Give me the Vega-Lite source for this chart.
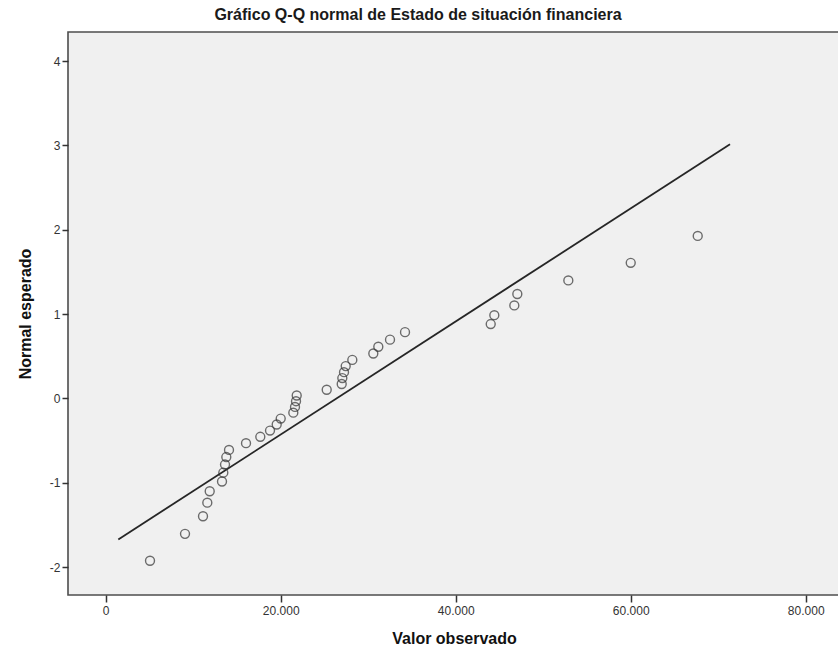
{
  "$schema": "https://vega.github.io/schema/vega-lite/v6.json",
  "autosize": "none",
  "width": 772,
  "height": 563,
  "padding": {"left": 68, "top": 32, "right": 0, "bottom": 66},
  "background": "white",
  "title": {
    "text": "Gráfico Q-Q normal de Estado de situación financiera",
    "font": "Liberation Sans",
    "fontSize": 16,
    "fontWeight": "bold",
    "color": "#1a1a1a",
    "anchor": "middle",
    "dx": -36,
    "offset": 9
  },
  "datasets": {
    "pts": [
      {"valor": 5063, "normal": -1.926},
      {"valor": 9063, "normal": -1.607},
      {"valor": 11120, "normal": -1.398},
      {"valor": 11612, "normal": -1.237},
      {"valor": 11886, "normal": -1.102},
      {"valor": 13292, "normal": -0.986},
      {"valor": 13440, "normal": -0.881},
      {"valor": 13635, "normal": -0.785},
      {"valor": 13783, "normal": -0.696},
      {"valor": 14092, "normal": -0.612},
      {"valor": 16035, "normal": -0.532},
      {"valor": 17669, "normal": -0.456},
      {"valor": 18778, "normal": -0.382},
      {"valor": 19543, "normal": -0.310},
      {"valor": 20000, "normal": -0.240},
      {"valor": 21441, "normal": -0.170},
      {"valor": 21635, "normal": -0.102},
      {"valor": 21749, "normal": -0.034},
      {"valor": 21829, "normal": 0.034},
      {"valor": 25258, "normal": 0.102},
      {"valor": 26972, "normal": 0.170},
      {"valor": 27041, "normal": 0.240},
      {"valor": 27235, "normal": 0.310},
      {"valor": 27429, "normal": 0.382},
      {"valor": 28184, "normal": 0.456},
      {"valor": 30584, "normal": 0.532},
      {"valor": 31155, "normal": 0.612},
      {"valor": 32492, "normal": 0.696},
      {"valor": 34207, "normal": 0.785},
      {"valor": 44002, "normal": 0.881},
      {"valor": 44413, "normal": 0.986},
      {"valor": 46699, "normal": 1.102},
      {"valor": 47042, "normal": 1.237},
      {"valor": 52871, "normal": 1.398},
      {"valor": 60003, "normal": 1.607},
      {"valor": 67660, "normal": 1.926}
    ],
    "linea": [
      {"valor": 1440, "normal": -1.673},
      {"valor": 71350, "normal": 3.013}
    ]
  },
  "layer": [
    {
      "data": {"name": "linea"},
      "mark": {"type": "line", "color": "#262626", "strokeWidth": 1.8},
      "encoding": {
        "x": {"field": "valor", "type": "quantitative"},
        "y": {"field": "normal", "type": "quantitative"}
      }
    },
    {
      "data": {"name": "pts"},
      "mark": {"type": "point", "shape": "circle", "filled": false, "color": "#333333", "size": 80, "strokeWidth": 1.4},
      "encoding": {
        "x": {
          "field": "valor", "type": "quantitative",
          "scale": {"domain": [-4309, 83920], "nice": false, "zero": false},
          "axis": {
            "title": "Valor observado",
            "values": [0, 20000, 40000, 60000, 80000],
            "labelExpr": "replace(format(datum.value, ',.0f'), ',', '.')",
            "grid": false,
            "domain": false,
            "tickSize": 7,
            "tickColor": "#333333",
            "tickWidth": 1.5,
            "labelPadding": 3,
            "labelFont": "Liberation Sans",
            "labelFontSize": 12,
            "labelColor": "#333333",
            "titleFont": "Liberation Sans",
            "titleFontSize": 16,
            "titleFontWeight": "bold",
            "titleColor": "#111111",
            "titlePadding": 14
          }
        },
        "y": {
          "field": "normal", "type": "quantitative",
          "scale": {"domain": [-2.332, 4.344], "nice": false, "zero": false},
          "axis": {
            "title": "Normal esperado",
            "values": [-2, -1, 0, 1, 2, 3, 4],
            "labelExpr": "datum.value < 0 ? '-' + abs(datum.value) : '' + datum.value",
            "grid": false,
            "domain": false,
            "tickSize": 6,
            "tickColor": "#333333",
            "tickWidth": 1.5,
            "labelPadding": 2,
            "labelFont": "Liberation Sans",
            "labelFontSize": 12,
            "labelColor": "#333333",
            "titleFont": "Liberation Sans",
            "titleFontSize": 16,
            "titleFontWeight": "bold",
            "titleColor": "#111111",
            "titlePadding": 16
          }
        }
      }
    }
  ],
  "config": {
    "view": {"fill": "#f0f0f0", "stroke": "#4d4d4d", "strokeWidth": 1.6}
  }
}
